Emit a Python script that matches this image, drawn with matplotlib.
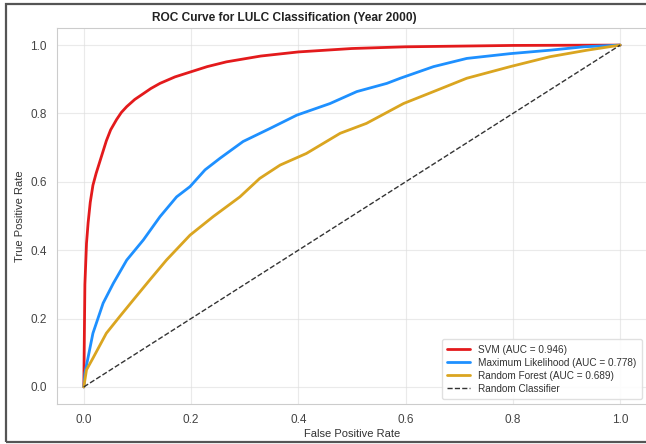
import matplotlib
matplotlib.use("Agg")
import matplotlib.pyplot as plt
from matplotlib.patches import Rectangle
import seaborn as sns

sns.set_style("whitegrid")
plt.rcParams['font.family'] = ['Liberation Sans', 'DejaVu Sans']

svm_fpr = [0, 0.001, 0.002, 0.005, 0.008, 0.012, 0.017, 0.023, 0.03, 0.036, 0.042, 0.05,
           0.061, 0.07, 0.08, 0.095, 0.111, 0.125, 0.142, 0.17, 0.2, 0.23, 0.266, 0.33,
           0.4, 0.5, 0.6, 0.8, 1.0]
svm_tpr = [0, 0.15, 0.3, 0.42, 0.48, 0.54, 0.59, 0.625, 0.66, 0.69, 0.72, 0.752,
           0.782, 0.803, 0.82, 0.841, 0.858, 0.873, 0.888, 0.907, 0.922, 0.937, 0.951, 0.968,
           0.98, 0.99, 0.995, 0.999, 1.0]

ml_fpr = [0, 0.002, 0.017, 0.036, 0.055, 0.08, 0.111, 0.142, 0.173, 0.198, 0.226, 0.254,
          0.297, 0.347, 0.397, 0.459, 0.509, 0.565, 0.59, 0.652, 0.714, 0.795, 0.869,
          0.932, 1.0]
ml_tpr = [0, 0.04, 0.157, 0.245, 0.303, 0.371, 0.43, 0.498, 0.556, 0.586, 0.635, 0.669,
          0.718, 0.756, 0.795, 0.829, 0.864, 0.888, 0.903, 0.937, 0.961, 0.975, 0.985,
          0.995, 1.0]

rf_fpr = [0, 0.005, 0.017, 0.042, 0.067, 0.092, 0.123, 0.154, 0.198, 0.241, 0.291, 0.328,
          0.366, 0.415, 0.478, 0.527, 0.596, 0.652, 0.714, 0.795, 0.869, 0.938, 1.0]
rf_tpr = [0, 0.05, 0.084, 0.157, 0.206, 0.254, 0.313, 0.371, 0.444, 0.498, 0.556, 0.61,
          0.649, 0.683, 0.742, 0.771, 0.829, 0.864, 0.903, 0.937, 0.966, 0.985, 1.0]

labels = ["SVM (AUC = 0.946)", "Maximum Likelihood (AUC = 0.778)",
          "Random Forest (AUC = 0.689)", "Random Classifier"]
colors = ["#e31a1c", "#1e90ff", "#daa520"]

fig = plt.figure(figsize=(6.46, 4.44), dpi=100)
ax = fig.add_axes([57/646, 1 - 404/444, (647 - 57)/646, (404 - 28)/444])

ax.plot(svm_fpr, svm_tpr, color=colors[0], lw=2.0, label=labels[0])
ax.plot(ml_fpr, ml_tpr, color=colors[1], lw=2.0, label=labels[1])
ax.plot(rf_fpr, rf_tpr, color=colors[2], lw=2.0, label=labels[2])
ax.plot([0, 1], [0, 1], color="#333333", ls="--", lw=1.0, label=labels[3])

ax.set_xlim(-0.05, 1.05)
ax.set_ylim(-0.05, 1.05)
ax.set_xticks([0, 0.2, 0.4, 0.6, 0.8, 1.0])
ax.set_yticks([0, 0.2, 0.4, 0.6, 0.8, 1.0])
ax.tick_params(labelsize=8.5, colors="#444444", pad=4)
ax.grid(True, color="#dddddd", alpha=0.6, lw=0.8)
for s in ax.spines.values():
    s.set_color("#cccccc")
    s.set_linewidth(0.8)

ax.set_xlabel("False Positive Rate", fontsize=8, color="#333333", labelpad=2)
ax.set_ylabel("True Positive Rate", fontsize=8, color="#333333", labelpad=4)
fig.text(284/646, 1 - 18/444, "ROC Curve for LULC Classification (Year 2000)",
         fontsize=8.6, fontweight="bold", color="#222222", ha="center", va="center")

leg = ax.legend(loc="lower right", fontsize=7.2, frameon=True, framealpha=0.9,
                handlelength=2.3, borderpad=0.55, labelspacing=0.3)
leg.get_frame().set_edgecolor("#dddddd")
for t in leg.get_texts():
    t.set_color("#333333")

fig.patches.append(Rectangle((6/646, 2/444), 1.1, (440 - 2)/444,
                             transform=fig.transFigure, fill=False,
                             edgecolor="#555555", lw=1.6, zorder=10))

fig.savefig("out.png", dpi=100)
